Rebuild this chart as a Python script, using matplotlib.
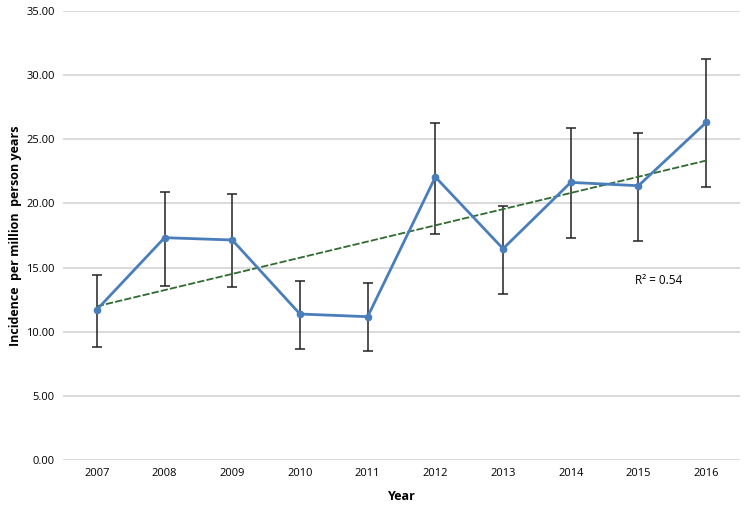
import matplotlib
matplotlib.use("Agg")
import matplotlib.pyplot as plt
import numpy as np

# Values
years = [2007, 2008, 2009, 2010, 2011, 2012, 2013, 2014, 2015, 2016]
incidence = [11.72, 17.33, 17.15, 11.38, 11.17, 22.06, 16.47, 21.64, 21.38, 26.31]
ci_upper = [14.40, 20.87, 20.71, 13.98, 13.77, 26.29, 19.82, 25.90, 25.46, 31.23]
ci_lower = [8.83, 13.56, 13.46, 8.65, 8.52, 17.59, 12.91, 17.28, 17.07, 21.30]
r2_label = "R² = 0.54"

plt.rcParams['font.family'] = ['Open Sans', 'DejaVu Sans']

x = np.array(years)
y = np.array(incidence)
yerr = [y - np.array(ci_lower), np.array(ci_upper) - y]

fig = plt.figure(figsize=(7.5, 5.05), dpi=100)
ax = fig.add_axes([63 / 750, 1 - 460 / 505, (740 - 63) / 750, (460 - 11) / 505])

# gridlines
ax.set_ylim(0, 35)
ax.set_xlim(2006.5, 2016.5)
ax.set_yticks(np.arange(0, 36, 5))
ax.yaxis.grid(True, color='#d4d4d4', linewidth=1.2)
ax.set_axisbelow(True)
for s in ax.spines.values():
    s.set_visible(False)

# linear trend
coef = np.polyfit(x, y, 1)
ax.plot(x, np.polyval(coef, x), color='#2f6b2f', linewidth=1.3,
        linestyle=(0, (4, 1.2)), zorder=3)

ax.errorbar(x, y, yerr=yerr, fmt='none', ecolor='#222222', elinewidth=1.1,
            capsize=3.5, capthick=1.1, zorder=2)
ax.plot(x, y, color='#4a7ebb', linewidth=2.0, marker='o', markersize=4.5,
        zorder=4)

ax.text(2015.3, 14.0, r2_label, fontsize=8.5, ha='center', va='center')

ax.set_xticks(years)
ax.set_xticklabels([str(v) for v in years], fontsize=8)
ax.set_yticklabels([f"{v:.2f}" for v in np.arange(0, 36, 5)], fontsize=8)
ax.tick_params(length=0, pad=6)
ax.set_xlabel("Year", fontsize=9, fontweight='bold', labelpad=8)
ax.set_ylabel("Incidence  per million  person years", fontsize=9,
              fontweight='bold', labelpad=3)

fig.savefig("out.png", dpi=100)
